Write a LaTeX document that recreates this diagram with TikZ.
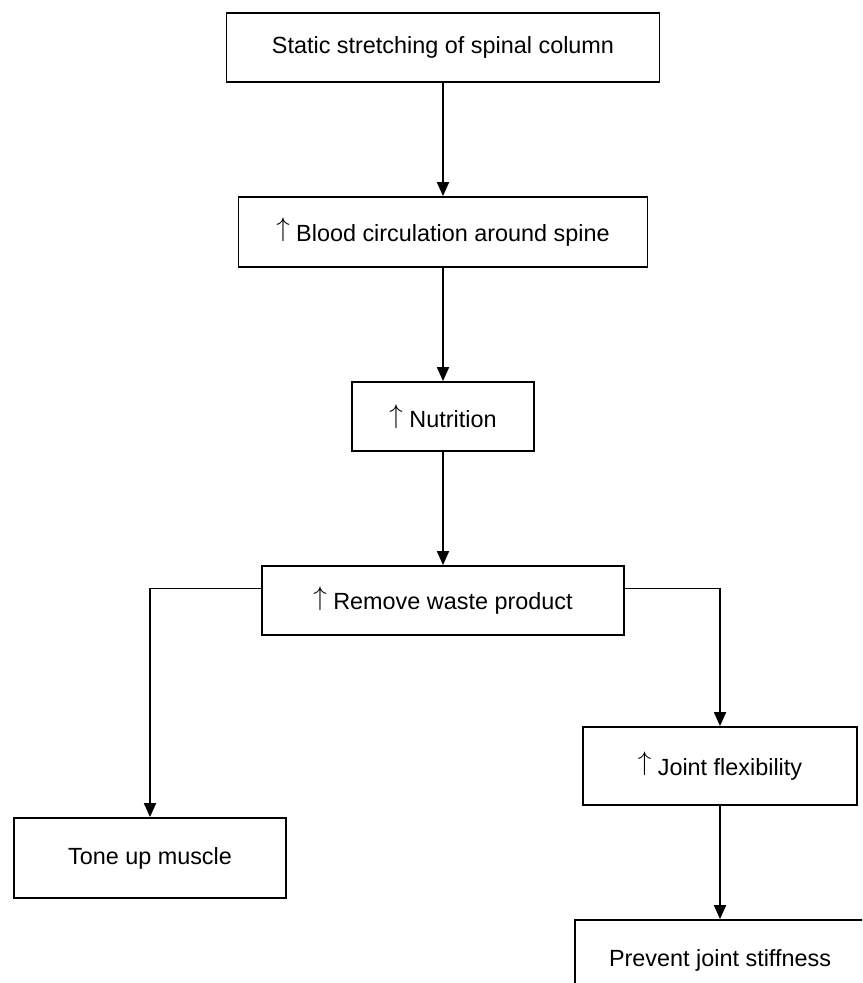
\documentclass[tikz,border=0pt]{standalone}
\usepackage{fontspec}
\setmainfont{Liberation Sans}
\usetikzlibrary{arrows.meta}
\newcommand{\incr}{\raisebox{0.19em}{\scalebox{1.12}{$\uparrow$}}\ }

\begin{document}
\begin{tikzpicture}[x=0.5pt, y=-0.5pt, line width=0.9pt, >={Triangle[length=7pt, width=6pt]},
  every node/.style={font=\fontsize{11.7}{14}\selectfont},
  box/.style={draw, rectangle, inner sep=0pt}]
\useasboundingbox (0,0) rectangle (862,983);
\clip (0,0) rectangle (862,983);
\node[box, minimum width=216.5pt, minimum height=34.5pt] (stretch) at (443,47.5) {Static stretching of spinal column};
\node[box, minimum width=204.5pt, minimum height=35pt] (blood) at (443,232) {\incr Blood circulation around spine};
\node[box, minimum width=91pt, minimum height=34.5pt] (nutrition) at (443,416.5) {\incr Nutrition};
\node[box, minimum width=181pt, minimum height=34.5pt] (waste) at (443,600.5) {\incr Remove waste product};
\node[box, minimum width=136pt, minimum height=40pt] (tone) at (150,858) {Tone up muscle};
\node[box, minimum width=137pt, minimum height=39pt] (flex) at (720,766) {\incr Joint flexibility};
\node[box, minimum width=145pt, minimum height=40pt] (stiff) at (720,960) {Prevent joint stiffness};
\draw[->] (stretch) -- (blood);
\draw[->] (blood) -- (nutrition);
\draw[->] (nutrition) -- (waste);
\draw[->] ([yshift=6pt]waste.west) -| (tone);
\draw[->] ([yshift=6pt]waste.east) -| (flex);
\draw[->] (flex) -- (stiff);
\end{tikzpicture}
\end{document}
